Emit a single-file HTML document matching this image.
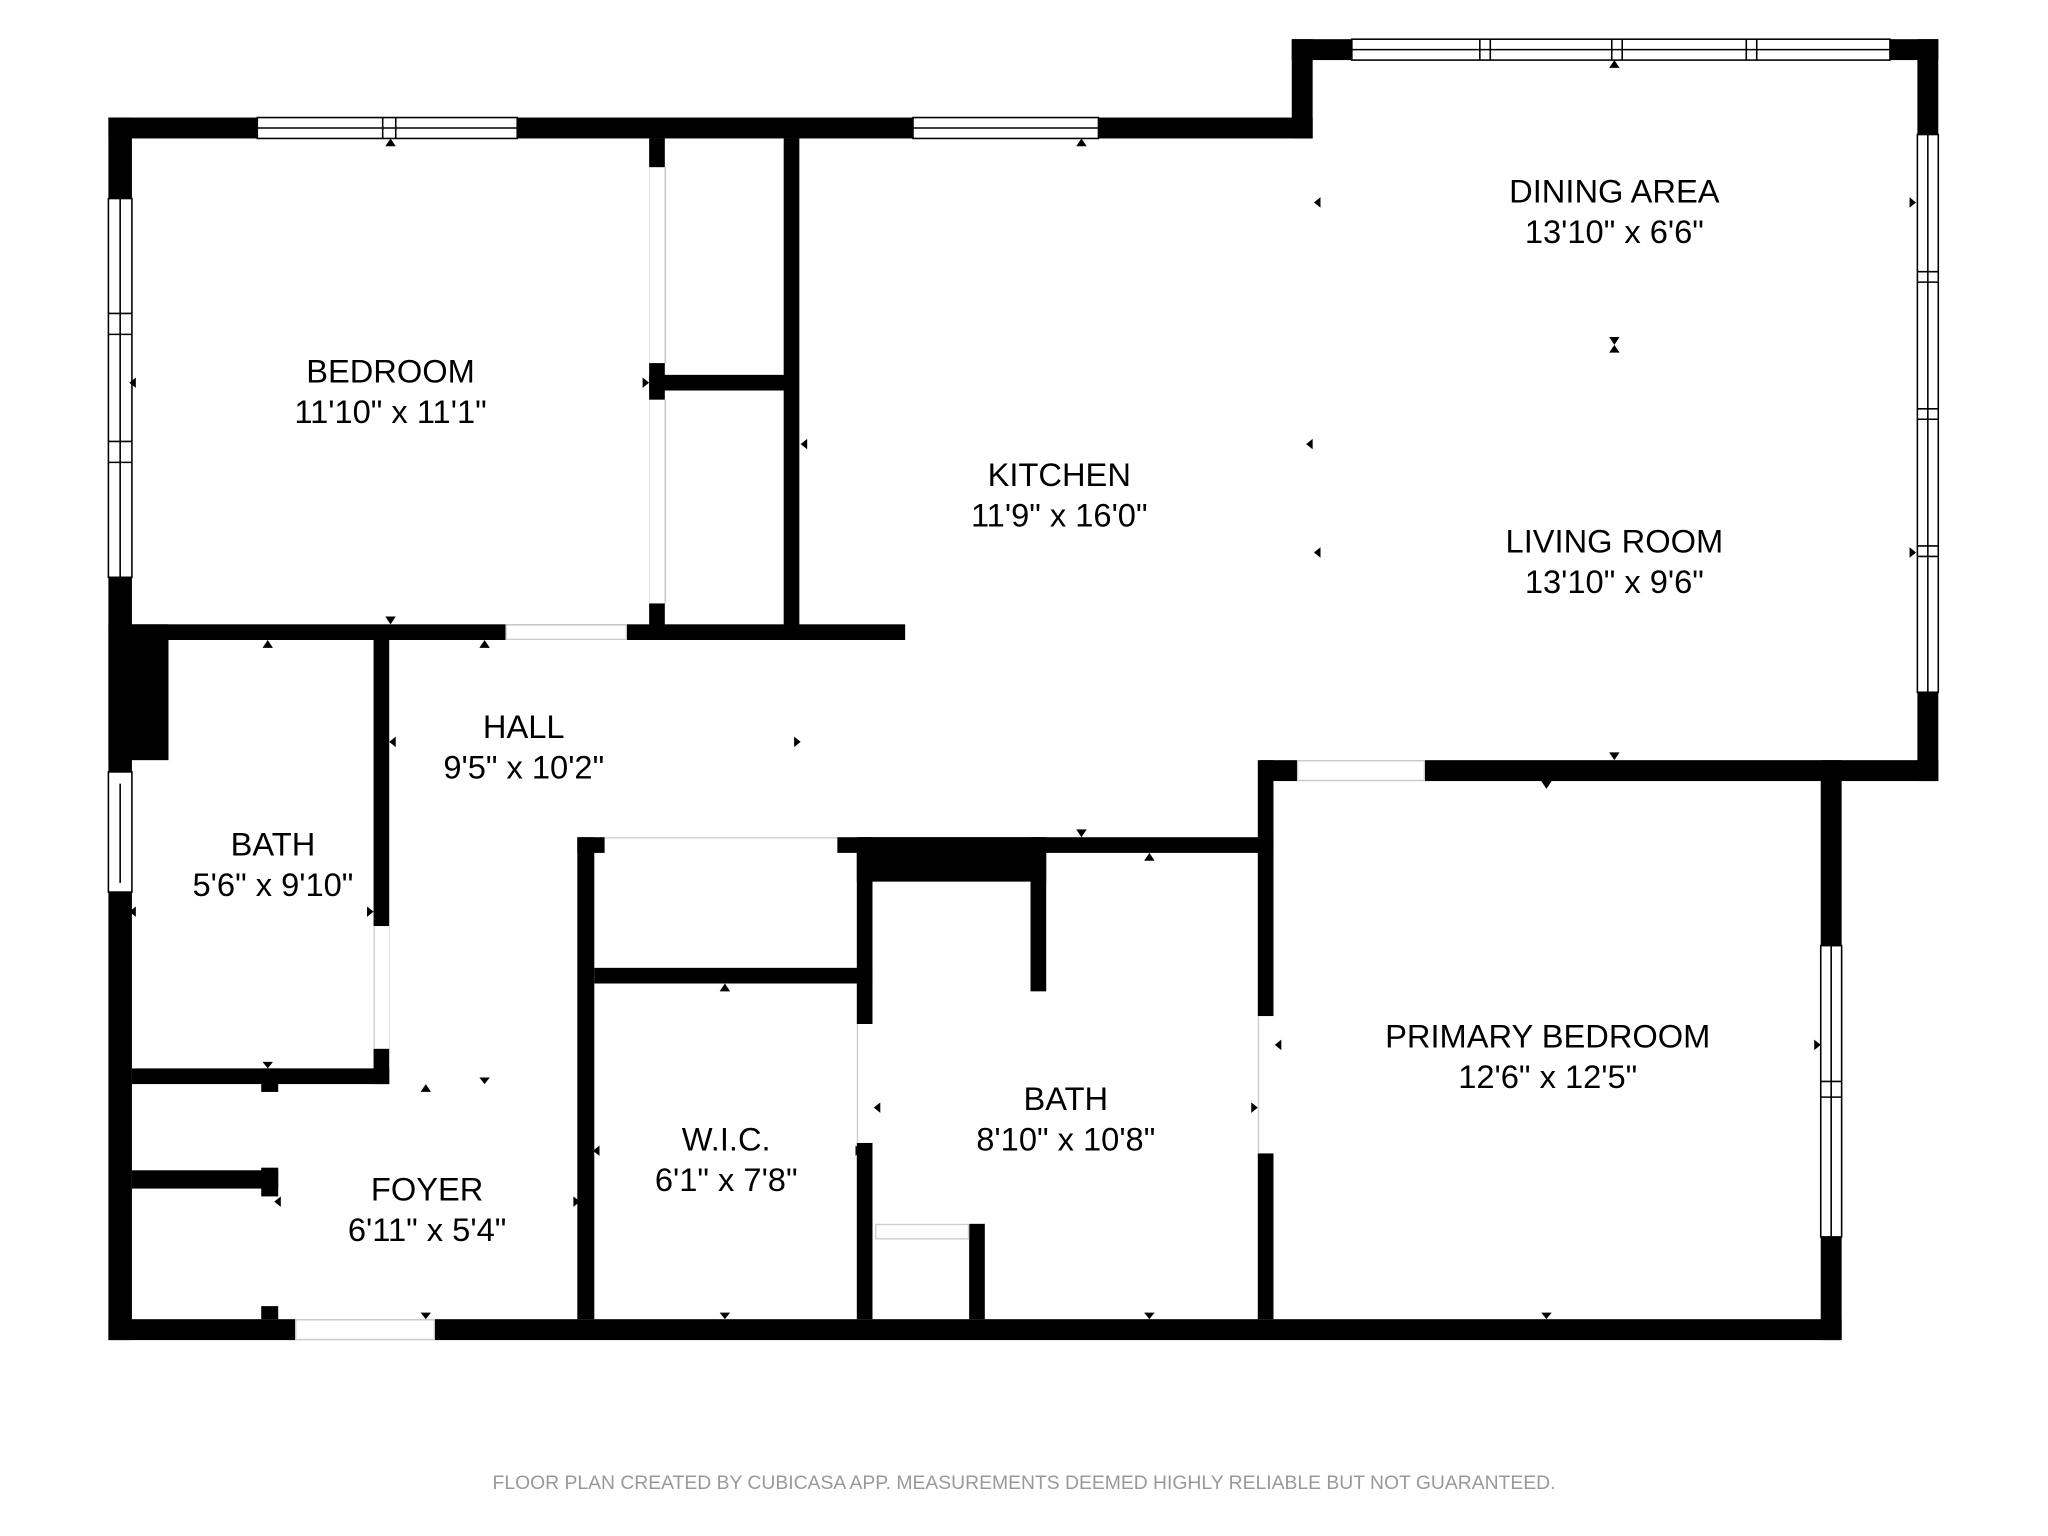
<!DOCTYPE html>
<html><head><meta charset="utf-8"><style>
html,body{margin:0;padding:0;background:#fff;}
svg{display:block;}
text{font-family:"Liberation Sans",Arial,sans-serif;fill:#000;}
</style></head><body>
<svg width="2048" height="1536" viewBox="0 0 1568 1176" xmlns="http://www.w3.org/2000/svg">
<rect width="1568" height="1176" fill="#fff"/>
<g fill="#000">
<rect x="83" y="90" width="922" height="16"/>
<rect x="989" y="30" width="16" height="76"/>
<rect x="989" y="30" width="495" height="16"/>
<rect x="1468" y="30" width="16" height="568"/>
<rect x="965" y="582" width="519" height="16"/>
<rect x="1394" y="582" width="16" height="444"/>
<rect x="83" y="1010" width="1327" height="16"/>
<rect x="83" y="90" width="18" height="936"/>
<rect x="83" y="478" width="46" height="104"/>
<rect x="101" y="478" width="592" height="12"/>
<rect x="497" y="106" width="12" height="384"/>
<rect x="497" y="287" width="111" height="12"/>
<rect x="600" y="106" width="12" height="384"/>
<rect x="286" y="490" width="12" height="340"/>
<rect x="101" y="818" width="197" height="12"/>
<rect x="101" y="896" width="112" height="14"/>
<rect x="200" y="818" width="13" height="18"/>
<rect x="200" y="894" width="13" height="22"/>
<rect x="200" y="1000" width="13" height="10"/>
<rect x="442" y="641" width="13" height="369"/>
<rect x="442" y="641" width="21" height="12"/>
<rect x="641" y="641" width="334" height="12"/>
<rect x="455" y="741" width="213" height="12"/>
<rect x="656" y="641" width="12" height="143"/>
<rect x="656" y="875" width="12" height="135"/>
<rect x="656" y="641" width="145" height="34"/>
<rect x="789" y="641" width="12" height="118"/>
<rect x="963" y="582" width="12" height="196"/>
<rect x="963" y="883" width="12" height="127"/>
<rect x="742" y="937" width="12" height="73"/>
</g>
<g fill="#fff">
<rect x="387" y="478" width="93" height="12"/>
<rect x="993" y="582" width="98" height="16"/>
<rect x="226" y="1010" width="107" height="16"/>
<rect x="463" y="641" width="178" height="12"/>
<rect x="497" y="128" width="12" height="150"/>
<rect x="497" y="306" width="12" height="156"/>
<rect x="286" y="709" width="12" height="94"/>
<rect x="656" y="784" width="12" height="91"/>
<rect x="963" y="778" width="12" height="105"/>
<rect x="670" y="937" width="72" height="12"/>
</g>
<g fill="none" stroke="#ccc" stroke-width="1">
<rect x="387.5" y="478.5" width="92" height="11"/>
<rect x="993.5" y="582.5" width="97" height="15"/>
<rect x="226.5" y="1010.5" width="106" height="15"/>
<line x1="463" y1="641.5" x2="641" y2="641.5"/>
<line x1="509.5" y1="128" x2="509.5" y2="278"/>
<line x1="509.5" y1="306" x2="509.5" y2="462"/>
<line x1="286.5" y1="709" x2="286.5" y2="803"/>
<line x1="656.5" y1="784" x2="656.5" y2="875"/>
<line x1="963.5" y1="778" x2="963.5" y2="883"/>
<rect x="670.5" y="937.5" width="71" height="11"/>
</g>
<g fill="#fff" stroke="#000" stroke-width="1.2">
<rect x="197" y="90" width="199" height="16"/><line x1="197" y1="98" x2="396" y2="98"/><line x1="293" y1="90" x2="293" y2="106"/><line x1="303" y1="90" x2="303" y2="106"/>
<rect x="699" y="90" width="142" height="16"/><line x1="699" y1="98" x2="841" y2="98"/>
<rect x="1035" y="30" width="412" height="16"/><line x1="1035" y1="38" x2="1447" y2="38"/>
<line x1="1133" y1="30" x2="1133" y2="46"/><line x1="1141" y1="30" x2="1141" y2="46"/>
<line x1="1234" y1="30" x2="1234" y2="46"/><line x1="1242" y1="30" x2="1242" y2="46"/>
<line x1="1337" y1="30" x2="1337" y2="46"/><line x1="1345" y1="30" x2="1345" y2="46"/>
<rect x="1468" y="103" width="16" height="427"/><line x1="1476" y1="103" x2="1476" y2="530"/>
<line x1="1468" y1="208" x2="1484" y2="208"/><line x1="1468" y1="216" x2="1484" y2="216"/>
<line x1="1468" y1="313" x2="1484" y2="313"/><line x1="1468" y1="321" x2="1484" y2="321"/>
<line x1="1468" y1="418" x2="1484" y2="418"/><line x1="1468" y1="426" x2="1484" y2="426"/>
<rect x="1394" y="724" width="16" height="223"/><line x1="1402" y1="724" x2="1402" y2="947"/>
<line x1="1394" y1="828" x2="1410" y2="828"/><line x1="1394" y1="840" x2="1410" y2="840"/>
<rect x="83" y="152" width="18" height="290"/><line x1="92" y1="152" x2="92" y2="442"/>
<line x1="83" y1="240" x2="101" y2="240"/><line x1="83" y1="256" x2="101" y2="256"/>
<line x1="83" y1="338" x2="101" y2="338"/><line x1="83" y1="354" x2="101" y2="354"/>
<rect x="83" y="591" width="18" height="92"/><line x1="92" y1="600" x2="92" y2="676"/>
</g>
<g fill="#000">
<polygon points="295,112 303,112 299,106"/><polygon points="824,112 832,112 828,106"/>
<polygon points="1232,52 1240,52 1236,46"/><polygon points="1232,576 1240,576 1236,582"/>
<polygon points="295,472 303,472 299,478"/><polygon points="201,496 209,496 205,490"/>
<polygon points="367,496 375,496 371,490"/><polygon points="1232,270 1240,270 1236,264"/>
<polygon points="1232,258 1240,258 1236,264"/>
<polygon points="1011,151 1011,159 1006,155"/><polygon points="1462,151 1462,159 1467,155"/>
<polygon points="1005,336 1005,344 1000,340"/><polygon points="1011,419 1011,427 1006,423"/>
<polygon points="1462,419 1462,427 1467,423"/><polygon points="618,336 618,344 613,340"/>
<polygon points="492,289 492,297 497,293"/><polygon points="104,289 104,297 99,293"/>
<polygon points="303,564 303,572 298,568"/><polygon points="608,564 608,572 613,568"/>
<polygon points="104,694 104,702 99,698"/><polygon points="281,694 281,702 286,698"/>
<polygon points="201,813 209,813 205,818"/><polygon points="824,635 832,635 828,641"/>
<polygon points="876,659 884,659 880,653"/><polygon points="1180,598 1188,598 1184,604"/>
<polygon points="551,759 559,759 555,753"/><polygon points="322,836 330,836 326,830"/>
<polygon points="367,825 375,825 371,830"/><polygon points="459,877 459,885 454,881"/>
<polygon points="655,877 655,885 660,881"/><polygon points="674,844 674,852 669,848"/>
<polygon points="958,844 958,852 963,848"/><polygon points="981,796 981,804 976,800"/>
<polygon points="1389,796 1389,804 1394,800"/><polygon points="215,916 215,924 210,920"/>
<polygon points="439,916 439,924 444,920"/><polygon points="322,1005 330,1005 326,1010"/>
<polygon points="551,1005 559,1005 555,1010"/><polygon points="876,1005 884,1005 880,1010"/>
<polygon points="1180,1005 1188,1005 1184,1010"/>
</g>
<g font-size="25" text-anchor="middle">
<text x="299" y="293">BEDROOM</text><text x="299" y="324">11'10" x 11'1"</text>
<text x="811" y="372">KITCHEN</text><text x="811" y="403">11'9" x 16'0"</text>
<text x="1236" y="155">DINING AREA</text><text x="1236" y="186">13'10" x 6'6"</text>
<text x="1236" y="423">LIVING ROOM</text><text x="1236" y="454">13'10" x 9'6"</text>
<text x="401" y="565">HALL</text><text x="401" y="596">9'5" x 10'2"</text>
<text x="209" y="655">BATH</text><text x="209" y="686">5'6" x 9'10"</text>
<text x="1185" y="802">PRIMARY BEDROOM</text><text x="1185" y="833">12'6" x 12'5"</text>
<text x="816" y="850">BATH</text><text x="816" y="881">8'10" x 10'8"</text>
<text x="556" y="881">W.I.C.</text><text x="556" y="912">6'1" x 7'8"</text>
<text x="327" y="919">FOYER</text><text x="327" y="950">6'11" x 5'4"</text>
</g>
<text x="784" y="1140" font-size="14.8" text-anchor="middle" style="fill:#999">FLOOR PLAN CREATED BY CUBICASA APP. MEASUREMENTS DEEMED HIGHLY RELIABLE BUT NOT GUARANTEED.</text>
</svg>
</body></html>
